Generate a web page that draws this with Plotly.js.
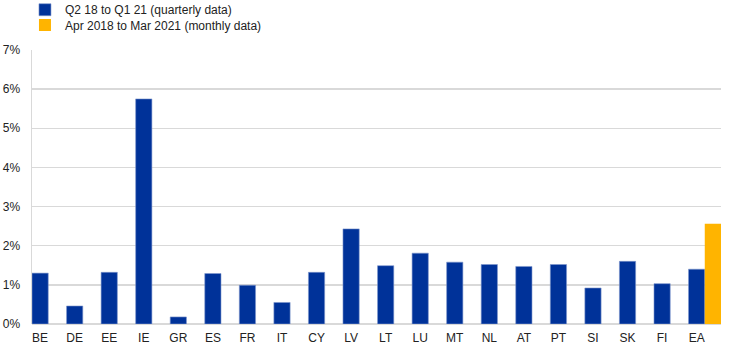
<!DOCTYPE html>
<html>
<head>
<meta charset="utf-8">
<script src="https://cdn.plot.ly/plotly-3.0.1.min.js"></script>
<style>
html,body{margin:0;padding:0;background:#fff;}
#chart{width:744px;height:352px;}
</style>
</head>
<body>
<div id="chart"></div>
<script>
const categories = ["BE","DE","EE","IE","GR","ES","FR","IT","CY","LV","LT","LU","MT","NL","AT","PT","SI","SK","FI","EA"];
const quarterlyName = "Q2 18 to Q1 21 (quarterly data)";
const monthlyName = "Apr 2018 to Mar 2021 (monthly data)";
const quarterly = [1.30,0.46,1.32,5.75,0.18,1.29,0.99,0.55,1.32,2.43,1.49,1.81,1.58,1.52,1.47,1.52,0.92,1.60,1.03,1.40];
const monthlyCats = ["EA"];
const monthly = [2.56];
const yTickVals = [0,1,2,3,4,5,6,7];
const yTickText = ["0%","1%","2%","3%","4%","5%","6%","7%"];

const BW = 0.47;
const traces = [
  {
    type: "bar", name: quarterlyName, x: categories, y: quarterly,
    width: BW, offset: -BW/2, legend: "legend",
    marker: {color: "#003299", line: {color: "#7f97cc", width: 0.6}},
    hoverinfo: "x+y"
  },
  {
    type: "bar", name: monthlyName, x: monthlyCats, y: monthly,
    width: BW, offset: BW/2, legend: "legend2",
    marker: {color: "#FFB400", line: {width: 0}},
    hoverinfo: "x+y"
  }
];

const legendBase = {
  x: -0.0102, xanchor: "left", yanchor: "middle",
  orientation: "v", bgcolor: "rgba(0,0,0,0)",
  font: {size: 12, color: "#222"}, itemwidth: 30
};

const layout = {
  width: 744, height: 352,
  margin: {l: 32, r: 23, t: 50, b: 28, autoexpand: false},
  paper_bgcolor: "#fff", plot_bgcolor: "#fff",
  font: {family: "Arial, 'Liberation Sans', sans-serif", size: 12, color: "#222"},
  barmode: "overlay",
  showlegend: true,
  legend: Object.assign({}, legendBase, {y: 1.147}),
  legend2: Object.assign({}, legendBase, {y: 1.0912}),
  xaxis: {
    type: "category", range: [-BW/2, categories.length - 1 + 1.5*BW],
    showgrid: false, zeroline: false, showline: false,
    ticks: "", ticklabelstandoff: 5, tickfont: {size: 12, color: "#222"}, fixedrange: true
  },
  yaxis: {
    range: [0, 7], tickvals: yTickVals, ticktext: yTickText,
    showgrid: true, gridcolor: "#d9d9d9", gridwidth: 1.3,
    zeroline: true, zerolinecolor: "#d9d9d9", zerolinewidth: 1.5,
    showline: true, linecolor: "#d9d9d9", linewidth: 1.5,
    ticks: "", ticklabelstandoff: 8, tickfont: {size: 12, color: "#222"}, fixedrange: true
  }
};

Plotly.newPlot("chart", traces, layout, {displayModeBar: false, staticPlot: true});
</script>
</body>
</html>
